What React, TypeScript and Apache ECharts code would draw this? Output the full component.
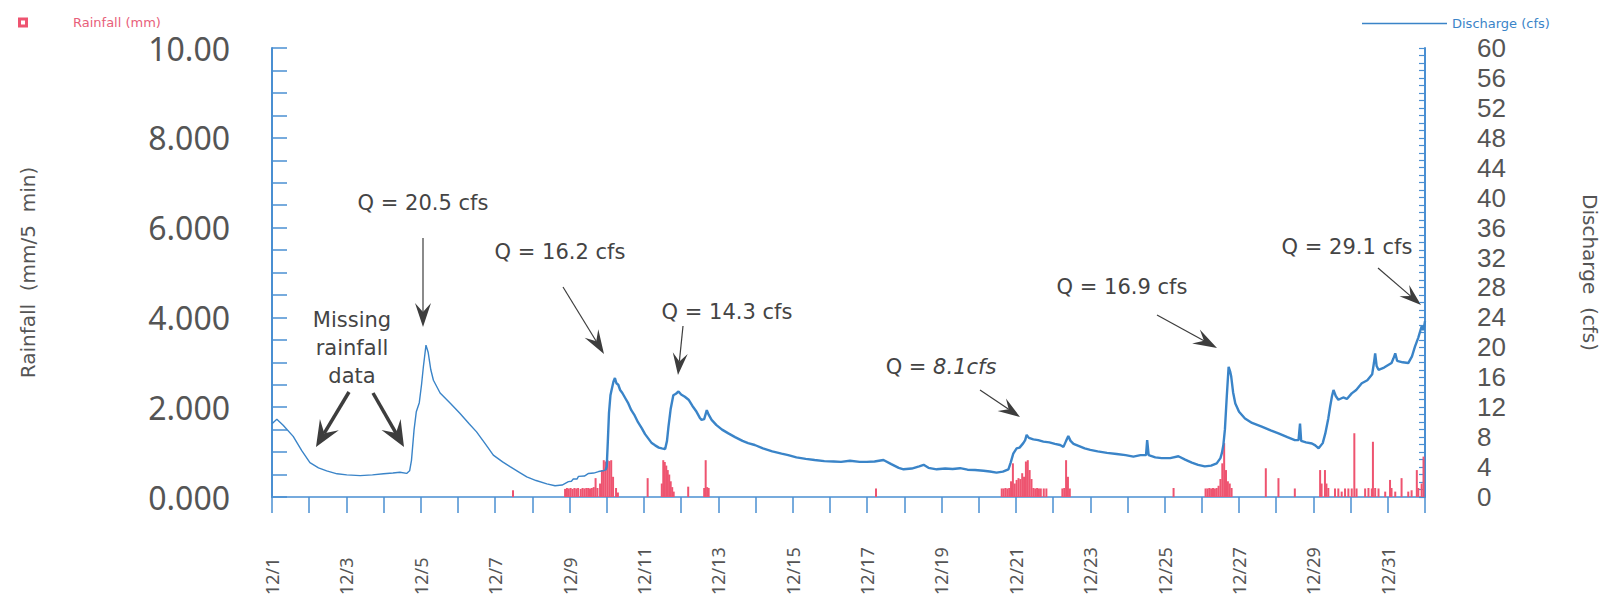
import React, { useEffect, useRef } from "react";
import * as echarts from "echarts";

// ---------- DATA ----------
// Days since 12/1 00:00 (x axis), discharge in cfs (right axis)
const qEarlyDay = [0.0, 0.13, 0.3, 0.57, 0.8, 1.02, 1.25, 1.47, 1.75, 2.01, 2.37, 2.7, 3.0, 3.25, 3.44, 3.62, 3.7, 3.75, 3.82, 3.88, 3.96, 4.02, 4.07, 4.14, 4.2, 4.27, 4.34, 4.52, 4.8, 5.05, 5.3, 5.5, 5.75, 5.95, 6.2, 6.4, 6.65, 6.85, 7.1, 7.39, 7.61, 7.8, 7.97, 8.05, 8.1, 8.2, 8.24, 8.4, 8.51, 8.65, 8.78, 8.9, 8.97];
const qEarlyVal = [9.8, 10.4, 9.6, 8.1, 6.2, 4.6, 3.9, 3.5, 3.1, 2.95, 2.85, 2.95, 3.1, 3.2, 3.3, 3.15, 3.5, 4.9, 9.0, 11.4, 12.6, 15.0, 17.4, 20.3, 19.3, 17.0, 15.6, 13.9, 12.5, 11.2, 9.8, 8.7, 7.0, 5.6, 4.7, 4.05, 3.3, 2.7, 2.2, 1.75, 1.5, 1.6, 2.05, 2.1, 2.4, 2.4, 2.75, 2.8, 3.15, 3.2, 3.4, 3.5, 3.6];

const qLateDay = [8.97, 9.0, 9.03, 9.06, 9.1, 9.13, 9.18, 9.22, 9.26, 9.31, 9.36, 9.42, 9.5, 9.58, 9.66, 9.75, 9.84, 9.94, 10.03, 10.12, 10.21, 10.3, 10.4, 10.48, 10.57, 10.62, 10.66, 10.72, 10.79, 10.86, 10.93, 11.0, 11.1, 11.2, 11.3, 11.4, 11.5, 11.55, 11.62, 11.69, 11.74, 11.82, 11.95, 12.1, 12.27, 12.45, 12.65, 12.8, 12.98, 13.2, 13.45, 13.7, 13.88, 14.1, 14.35, 14.59, 14.85, 15.1, 15.3, 15.54, 15.8, 15.99, 16.2, 16.44, 16.65, 16.85, 16.98, 17.2, 17.4, 17.52, 17.65, 17.87, 18.1, 18.3, 18.5, 18.7, 18.9, 19.13, 19.3, 19.48, 19.65, 19.8, 19.86, 19.93, 20.02, 20.1, 20.2, 20.25, 20.29, 20.35, 20.47, 20.6, 20.74, 20.9, 21.05, 21.19, 21.28, 21.35, 21.41, 21.47, 21.55, 21.7, 21.85, 22.0, 22.2, 22.45, 22.71, 22.95, 23.16, 23.35, 23.5, 23.53, 23.57, 23.75, 23.92, 24.15, 24.37, 24.55, 24.73, 24.9, 25.08, 25.25, 25.4, 25.5, 25.54, 25.58, 25.62, 25.67, 25.72, 25.76, 25.79, 25.84, 25.9, 26.0, 26.16, 26.35, 26.61, 26.85, 27.06, 27.3, 27.5, 27.6, 27.64, 27.67, 27.8, 27.96, 28.05, 28.14, 28.25, 28.32, 28.4, 28.45, 28.5, 28.54, 28.6, 28.67, 28.8, 28.9, 29.03, 29.15, 29.3, 29.45, 29.58, 29.63, 29.66, 29.7, 29.75, 29.9, 30.0, 30.1, 30.15, 30.2, 30.25, 30.4, 30.55, 30.65, 30.73, 30.82, 30.91, 30.96, 31.0];
const qLateVal = [3.6, 4.1, 7.5, 11.2, 13.6, 14.3, 15.4, 15.9, 15.2, 15.0, 14.3, 13.9, 13.2, 12.5, 11.6, 10.9, 10.0, 9.2, 8.4, 7.8, 7.2, 6.9, 6.6, 6.5, 6.4, 7.5, 9.4, 11.8, 13.6, 13.8, 14.1, 13.7, 13.4, 13.0, 12.2, 11.5, 10.6, 10.3, 10.4, 11.6, 11.0, 10.3, 9.6, 9.0, 8.5, 8.0, 7.5, 7.2, 6.95, 6.5, 6.1, 5.8, 5.6, 5.3, 5.1, 4.95, 4.8, 4.75, 4.7, 4.85, 4.7, 4.7, 4.75, 4.95, 4.4, 3.9, 3.7, 3.8, 4.1, 4.3, 3.9, 3.7, 3.8, 3.75, 3.85, 3.65, 3.6, 3.5, 3.4, 3.25, 3.4, 3.7, 4.6, 5.8, 6.5, 6.6, 7.2, 7.6, 8.3, 7.9, 7.7, 7.6, 7.4, 7.3, 7.1, 6.95, 6.7, 7.5, 8.15, 7.5, 7.1, 6.8, 6.5, 6.3, 6.1, 5.9, 5.75, 5.6, 5.4, 5.6, 5.6, 7.6, 5.6, 5.3, 5.2, 5.2, 5.45, 5.0, 4.6, 4.3, 4.1, 4.2, 4.5, 5.2, 5.9, 7.0, 9.0, 13.4, 17.4, 16.8, 16.1, 14.0, 12.5, 11.4, 10.5, 9.9, 9.4, 8.9, 8.5, 8.0, 7.6, 7.6, 9.8, 7.5, 7.3, 7.15, 6.9, 6.5, 7.2, 8.5, 10.5, 12.1, 13.5, 14.3, 13.5, 13.0, 13.3, 13.1, 13.85, 14.3, 15.2, 15.6, 16.4, 18.0, 19.2, 17.5, 17.0, 17.3, 17.6, 17.9, 18.5, 19.2, 18.2, 18.0, 17.9, 18.8, 20.1, 21.3, 22.8, 22.3, 23.5];

// Rainfall (mm / 5 min), left axis
const rainDay = [6.48,
  7.88, 7.93, 7.98, 8.03, 8.08, 8.13, 8.18, 8.23, 8.3, 8.35, 8.4, 8.45, 8.5, 8.55, 8.6, 8.65, 8.7, 8.75, 8.82, 8.87, 8.92, 8.97, 9.02, 9.07, 9.12, 9.17, 9.25, 9.3,
  10.1,
  10.48, 10.52, 10.56, 10.6, 10.64, 10.68, 10.72, 10.76, 10.8,
  11.19,
  11.62, 11.66, 11.7, 11.74,
  16.24,
  19.62, 19.67, 19.72, 19.77, 19.82, 19.87, 19.92, 19.97, 20.02, 20.07, 20.12, 20.17, 20.22, 20.27, 20.32, 20.37, 20.42, 20.47, 20.52, 20.57, 20.62, 20.67, 20.75, 20.82,
  21.25, 21.3, 21.35, 21.4, 21.45,
  24.24,
  25.1, 25.15, 25.2, 25.25, 25.3, 25.35, 25.4, 25.45, 25.5, 25.55, 25.6, 25.65, 25.7, 25.75, 25.8,
  26.72, 27.06, 27.5,
  28.18, 28.22, 28.31, 28.35, 28.4, 28.58, 28.67, 28.76, 28.85, 28.94, 29.03, 29.1, 29.16, 29.39, 29.48, 29.57, 29.6, 29.66, 29.75, 29.93, 30.06, 30.1, 30.2, 30.37, 30.55, 30.64, 30.78, 30.82, 30.91, 30.96];
const rainMm = [0.15,
  0.18, 0.2, 0.19, 0.2, 0.18, 0.2, 0.19, 0.2, 0.18, 0.2, 0.19, 0.2, 0.2, 0.19, 0.2, 0.22, 0.42, 0.2, 0.3, 0.6, 0.82, 0.79, 0.82, 0.8, 0.82, 0.45, 0.2, 0.1,
  0.42,
  0.3, 0.82, 0.78, 0.7, 0.6, 0.5, 0.35, 0.22, 0.12,
  0.23,
  0.2, 0.82, 0.22, 0.2,
  0.19,
  0.19, 0.19, 0.2, 0.19, 0.2, 0.35, 0.75, 0.3, 0.38, 0.42, 0.4, 0.53, 0.45, 0.79, 0.82, 0.6, 0.4, 0.2, 0.19, 0.2, 0.19, 0.19, 0.19, 0.19,
  0.19, 0.2, 0.82, 0.45, 0.19,
  0.2,
  0.19, 0.19, 0.2, 0.19, 0.2, 0.19, 0.2, 0.25, 0.4, 0.75, 1.2, 0.6, 0.35, 0.3, 0.2,
  0.64, 0.42, 0.19,
  0.6, 0.3, 0.6, 0.3, 0.2, 0.19, 0.19, 0.12, 0.19, 0.19, 0.19, 1.42, 0.19, 0.19, 0.2, 0.19, 1.23, 0.2, 0.19, 0.12, 0.38, 0.2, 0.12, 0.42, 0.12, 0.15, 0.6, 0.2, 0.3, 0.9];

const xLabelDays = [1, 3, 5, 7, 9, 11, 13, 15, 17, 19, 21, 23, 25, 27, 29, 31];

// Annotations
const notes = [
  { text: "Q = 20.5 cfs", x: 423, y: 203 },
  { text: "Q = 16.2 cfs", x: 560, y: 252 },
  { text: "Q = 14.3 cfs", x: 727, y: 312 },
  { text: "Q = 16.9 cfs", x: 1122, y: 287 },
  { text: "Q = 29.1 cfs", x: 1347, y: 247 },
];

const BLUE = "#3a84c8";
const AXIS_BLUE = "#4a8fd2";
const RED = "#ee5470";
const GREY = "#555";
const DARK = "#3d3d3d";
const FONT = "DejaVu Sans";

function arrow(x1: number, y1: number, x2: number, y2: number, w: number, hl: number, hw: number) {
  const dx = x2 - x1, dy = y2 - y1;
  const L = Math.hypot(dx, dy);
  const ux = dx / L, uy = dy / L, nx = -uy, ny = ux;
  const bx = x2 - ux * hl, by = y2 - uy * hl;
  const mx = x2 - ux * hl * 0.62, my = y2 - uy * hl * 0.62;
  return [
    { type: "line", silent: true, shape: { x1, y1, x2: mx, y2: my }, style: { stroke: DARK, lineWidth: w } },
    {
      type: "polygon",
      silent: true,
      shape: { points: [[x2, y2], [bx + nx * hw, by + ny * hw], [mx, my], [bx - nx * hw, by - ny * hw]] },
      style: { fill: DARK },
    },
  ];
}

export default function App() {
  const ref = useRef<HTMLDivElement>(null);
  useEffect(() => {
    if (!ref.current) return;
    const chart = echarts.init(ref.current, null, { renderer: "svg" });

    const graphics: any[] = [];
    notes.forEach((n) =>
      graphics.push({
        type: "text",
        silent: true,
        x: n.x,
        y: n.y,
        style: { text: n.text, fontSize: 21, fontFamily: FONT, fill: "#444", align: "center", verticalAlign: "middle" },
      })
    );
    graphics.push({
      type: "text",
      silent: true,
      x: 941,
      y: 367,
      style: {
        text: "{a|Q = }{b|8.1cfs}",
        fontSize: 21,
        fontFamily: FONT,
        fill: "#444",
        align: "center",
        verticalAlign: "middle",
        rich: {
          a: { fontSize: 21, fontFamily: FONT, fill: "#444" },
          b: { fontSize: 21, fontFamily: FONT, fill: "#444", fontStyle: "italic" },
        },
      },
    });
    graphics.push({
      type: "text",
      silent: true,
      x: 352,
      y: 348,
      style: {
        text: "Missing\nrainfall\ndata",
        fontSize: 21,
        lineHeight: 28,
        fontFamily: FONT,
        fill: "#444",
        align: "center",
        verticalAlign: "middle",
      },
    });
    graphics.push(...arrow(423, 238, 423, 327, 1.2, 24, 8));
    graphics.push(...arrow(563, 287, 604, 354, 1.2, 24, 8));
    graphics.push(...arrow(683, 326, 678, 375, 1.2, 22, 7.5));
    graphics.push(...arrow(980, 390, 1020, 417, 1.2, 22, 7.5));
    graphics.push(...arrow(1157, 315, 1217, 348, 1.2, 24, 8));
    graphics.push(...arrow(1378, 268, 1421, 305, 1.2, 22, 7.5));
    graphics.push(...arrow(349, 392, 316, 447, 3.5, 26, 11));
    graphics.push(...arrow(373, 393, 404, 447, 3.5, 26, 11));

    chart.setOption({
      animation: false,
      backgroundColor: "#ffffff",
      legend: [
        {
          data: ["Rainfall (mm)"],
          left: 13,
          top: 11,
          icon: "path://M0,0H10V10H0Z M3,3V7H7V3Z",
          itemWidth: 10,
          itemHeight: 10,
          textStyle: { color: "#e8607a", fontSize: 13, fontFamily: FONT, padding: [0, 0, 0, 40] },
        },
        {
          data: ["Discharge (cfs)"],
          left: 1357,
          top: 12,
          icon: "rect",
          itemWidth: 85,
          itemHeight: 1.6,
          textStyle: { color: BLUE, fontSize: 13, fontFamily: FONT },
        },
      ],
      grid: { left: 272, right: 187, top: 48, bottom: 103, containLabel: false },
      xAxis: {
        type: "value",
        min: 0,
        max: 31,
        interval: 1,
        splitLine: { show: false },
        axisLine: { lineStyle: { color: AXIS_BLUE, width: 1.5 } },
        axisTick: { length: 16, lineStyle: { color: AXIS_BLUE, width: 1.5 } },
        axisLabel: {
          rotate: 90,
          align: "left",
          margin: 98,
          fontSize: 18,
          fontFamily: "Noto Sans",
          color: GREY,
          formatter: (v: number) => (xLabelDays.includes(v + 1) ? `12/${v + 1}` : ""),
        },
      },
      yAxis: [
        {
          type: "value",
          position: "left",
          min: 0,
          max: 10,
          interval: 0.5,
          splitLine: { show: false },
          axisLine: { show: true, lineStyle: { color: AXIS_BLUE, width: 2 } },
          axisTick: { show: true, inside: true, length: 15, lineStyle: { color: AXIS_BLUE, width: 1.5 } },
          axisLabel: {
            margin: 42,
            fontSize: 32,
            fontFamily: "Noto Sans",
            color: GREY,
            formatter: (v: number) => (v === 10 ? "10.00" : v % 2 === 0 ? v.toFixed(3) : ""),
          },
          name: "Rainfall  (mm/5  min)",
          nameLocation: "middle",
          nameGap: 234,
          nameTextStyle: { fontSize: 20, fontFamily: FONT, color: GREY },
        },
        {
          type: "value",
          position: "right",
          min: 0,
          max: 60,
          interval: 1,
          splitLine: { show: false },
          axisLine: { show: true, lineStyle: { color: AXIS_BLUE, width: 2 } },
          axisTick: { show: true, inside: true, length: 6, lineStyle: { color: AXIS_BLUE, width: 1.2 } },
          axisLabel: {
            margin: 52,
            fontSize: 26,
            lineHeight: 26,
            fontFamily: "Liberation Sans",
            color: GREY,
            formatter: (v: number) => (v % 4 === 0 ? String(v) : ""),
          },
          name: "Discharge  (cfs)",
          nameLocation: "middle",
          nameRotate: -90,
          nameGap: 155,
          nameTextStyle: { fontSize: 20, fontFamily: FONT, color: GREY },
        },
      ],
      series: [
        {
          name: "Rainfall (mm)",
          type: "bar",
          yAxisIndex: 0,
          barWidth: 2,
          itemStyle: { color: RED },
          z: 2,
          data: rainDay.map((d, i) => [d, rainMm[i]]),
        },
        {
          name: "Discharge (cfs)",
          type: "line",
          yAxisIndex: 1,
          symbol: "none",
          z: 3,
          lineStyle: { color: BLUE, width: 1.4 },
          itemStyle: { color: BLUE },
          data: qEarlyDay.map((d, i) => [d, qEarlyVal[i]]),
        },
        {
          name: "Discharge (cfs)",
          type: "line",
          yAxisIndex: 1,
          symbol: "none",
          z: 3,
          lineStyle: { color: BLUE, width: 2.4 },
          itemStyle: { color: BLUE },
          data: qLateDay.map((d, i) => [d, qLateVal[i]]),
        },
      ],
      graphic: graphics,
    });
    return () => chart.dispose();
  }, []);
  return (
    <div
      ref={ref}
      style={{ position: "absolute", left: 0, top: 0, width: 1612, height: 600 }}
    />
  );
}
